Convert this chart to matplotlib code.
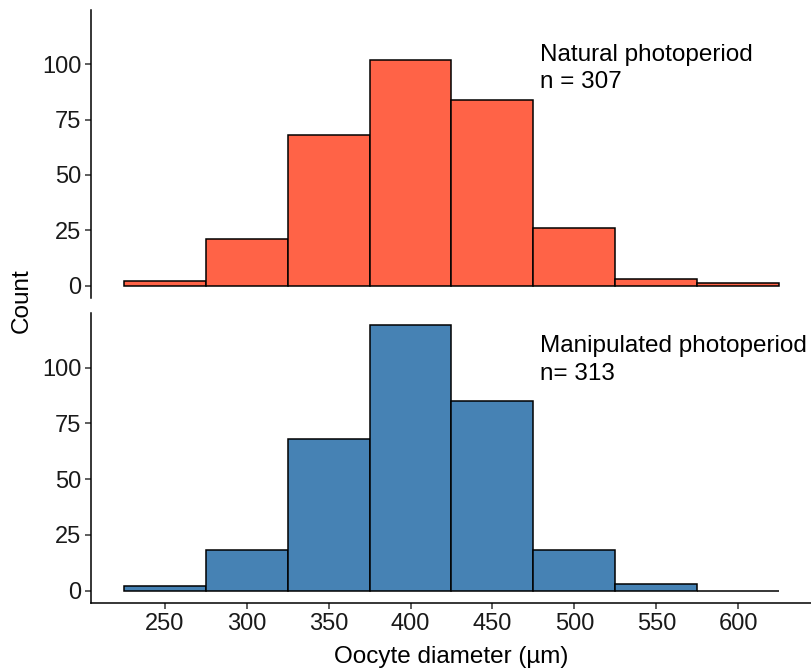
import matplotlib
matplotlib.use("Agg")
import matplotlib.pyplot as plt
import numpy as np

plt.rcParams['font.family'] = ['Liberation Sans', 'DejaVu Sans']

# bin edges (µm) and counts per bin
bin_edges = [225, 275, 325, 375, 425, 475, 525, 575, 625]
natural_counts = [2, 21, 68, 102, 84, 26, 3, 1]
manip_counts = [2, 18, 68, 119, 85, 18, 3, 0]

x_ticks = [250, 300, 350, 400, 450, 500, 550, 600]
y_ticks = [0, 25, 50, 75, 100]

natural_label = ["Natural photoperiod", "n = 307"]
manip_label = ["Manipulated photoperiod", "n= 313"]

fig = plt.figure(figsize=(8.11, 6.68), dpi=100)
ax1 = fig.add_axes([0.1122, 0.554, 0.889, 0.431])
ax2 = fig.add_axes([0.1122, 0.0973, 0.889, 0.434])

edges = np.array(bin_edges)
widths = np.diff(edges)


def draw_panel(ax, counts, color, label, text_y, show_x):
    ax.bar(edges[:-1], counts, width=widths, align='edge', color=color,
           edgecolor='black', linewidth=1.1)
    ax.set_xlim(205, 645)
    ax.set_ylim(-5.6, 124.5)
    ax.set_yticks(y_ticks)
    ax.set_xticks(x_ticks)
    for s in ['top', 'right']:
        ax.spines[s].set_visible(False)
    ax.spines['left'].set_linewidth(1.1)
    ax.spines['bottom'].set_linewidth(1.1)
    ax.tick_params(axis='both', labelsize=17, length=4, width=1.1,
                   color='#333333', labelcolor='#1a1a1a', pad=3)
    if not show_x:
        ax.spines['bottom'].set_visible(False)
        ax.tick_params(axis='x', bottom=False, labelbottom=False)
    for line, y in zip(label, text_y):
        ax.text(479, y, line, fontsize=17.5, va='baseline', ha='left',
                clip_on=False)


draw_panel(ax1, natural_counts, '#FF6347', natural_label, [101.5, 89.2], False)
draw_panel(ax2, manip_counts, '#4682B4', manip_label, [107.1, 94.3], True)

ax2.set_xlabel("Oocyte diameter (µm)", fontsize=17.5, labelpad=8)
fig.text(0.027, 0.55, "Count", rotation=90, fontsize=17.5, va='center',
         ha='center')

fig.savefig("out.png", dpi=100)
